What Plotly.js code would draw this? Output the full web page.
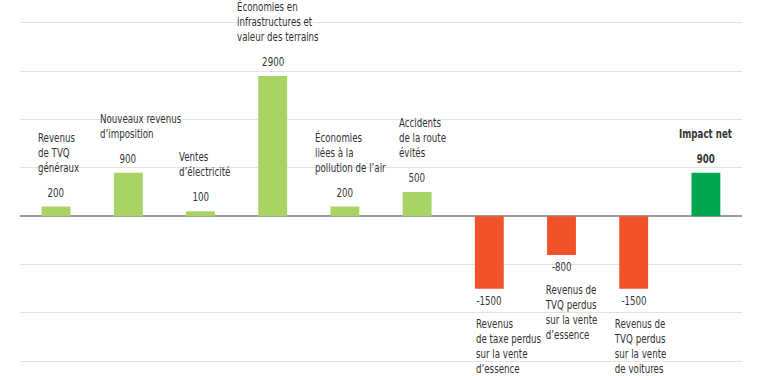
<!DOCTYPE html>
<html>
<head>
<meta charset="utf-8">
<script src="https://cdn.plot.ly/plotly-3.0.1.min.js"></script>
<style>html,body{margin:0;padding:0;background:#fff;}#chart{width:768px;height:376px;}</style>
</head>
<body>
<div id="chart"></div>
<script>
// ---- data ----
const categories = [
  "Revenus\nde TVQ\ngénéraux",
  "Nouveaux revenus\nd’imposition",
  "Ventes\nd’électricité",
  "Économies en\ninfrastructures et\nvaleur des terrains",
  "Économies\nliées à la\npollution de l’air",
  "Accidents\nde la route\névités",
  "Revenus\nde taxe perdus\nsur la vente\nd’essence",
  "Revenus de\nTVQ perdus\nsur la vente\nd’essence",
  "Revenus de\nTVQ perdus\nsur la vente\nde voitures",
  "Impact net"
];
const values = [200, 900, 100, 2900, 200, 500, -1500, -800, -1500, 900];
const valueLabels = ["200", "900", "100", "2900", "200", "500", "-1500", "-800", "-1500", "900"];
const isTotal = [false, false, false, false, false, false, false, false, false, true];

// ---- style ----
const GREEN = "#a8d465", RED = "#f0532a", DARK = "#00a651";
const FONT = "'DejaVu Sans Condensed', sans-serif";
const labelShift = [-20, -30, -24, -38, -32, -20, -15, -19, -22, 0];
const NARROW = 0.84;

const xs = categories.map((c, i) => i);
const colors = values.map((v, i) => isTotal[i] ? DARK : (v >= 0 ? GREEN : RED));

const annotations = [];
values.forEach((v, i) => {
  const bold = isTotal[i];
  const txt = bold ? "<b>" + valueLabels[i] + "</b>" : valueLabels[i];
  annotations.push({
    x: xs[i], y: v, xref: "x", yref: "y", text: txt, showarrow: false,
    xanchor: "center", yanchor: "middle", yshift: v >= 0 ? 14 : -12,
    font: {family: FONT, size: 11.5, color: "#333"}
  });
  const lab = categories[i].split("\n").join("<br>");
  annotations.push({
    x: xs[i], y: v, xref: "x", yref: "y",
    text: bold ? "<b>" + lab + "</b>" : lab, showarrow: false,
    xanchor: isTotal[i] ? "center" : "left", align: isTotal[i] ? "center" : "left",
    xshift: labelShift[i],
    yanchor: v >= 0 ? "bottom" : "top", yshift: v >= 0 ? 30 : -26,
    font: {family: FONT, size: 11.5, color: "#333"}
  });
});

const trace = {
  type: "bar", x: xs, y: values,
  marker: {color: colors},
  hoverinfo: "skip", cliponaxis: false
};

const layout = {
  width: 768, height: 376,
  margin: {l: 20, r: 26, t: 13, b: 5},
  paper_bgcolor: "#fff", plot_bgcolor: "#fff",
  showlegend: false, bargap: 0.6,
  xaxis: {range: [-0.5, 9.5], showticklabels: false, showgrid: false, zeroline: false, ticks: ""},
  yaxis: {range: [-3200, 4200], dtick: 1000, tick0: 0, showticklabels: false, ticks: "",
          gridcolor: "#e2e2e2", gridwidth: 1, zeroline: true, zerolinecolor: "#9a9a9a", zerolinewidth: 1.5},
  annotations: annotations,
  font: {family: FONT, size: 11.5, color: "#333"}
};

Plotly.newPlot("chart", [trace], layout, {displayModeBar: false, staticPlot: true}).then(() => {
  // narrow the annotation text horizontally to imitate a condensed typeface
  document.querySelectorAll("#chart g.annotation").forEach((g, k) => {
    const t = g.querySelector("text.annotation-text");
    const ann = layout.annotations[k];
    if (!t || !ann) return;
    t.style.transformBox = "fill-box";
    t.style.transformOrigin = ann.xanchor === "left" ? "left center" : "center center";
    t.style.transform = "scaleX(" + NARROW + ")";
  });
});
</script>
</body>
</html>
